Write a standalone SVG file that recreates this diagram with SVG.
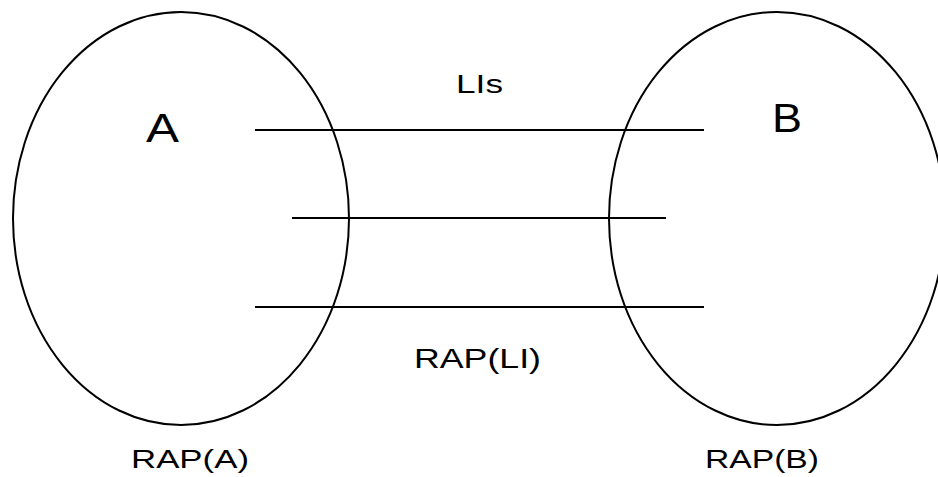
<svg xmlns="http://www.w3.org/2000/svg" width="938" height="477" viewBox="0 0 938 477">
<style>
.shape{fill:none;stroke:#000;stroke-width:2}
.ln{stroke:#000;stroke-width:2}
.t{font-family:"Liberation Sans",Arial,sans-serif;fill:#000}
</style>
<rect width="938" height="477" fill="#fff"/>
<g id="nodeA">
<ellipse class="shape" cx="181" cy="218.5" rx="168" ry="206.5"/>
<text class="t" x="146" y="142" font-size="40" textLength="33" lengthAdjust="spacingAndGlyphs">A</text>
<text class="t" x="131" y="468" font-size="26" textLength="118" lengthAdjust="spacingAndGlyphs">RAP(A)</text>
</g>
<g id="nodeB">
<ellipse class="shape" cx="777" cy="218.5" rx="168" ry="206.5"/>
<text class="t" x="772" y="132" font-size="40" textLength="30" lengthAdjust="spacingAndGlyphs">B</text>
<text class="t" x="705" y="468" font-size="26" textLength="114" lengthAdjust="spacingAndGlyphs">RAP(B)</text>
</g>
<g id="connectors">
<line class="ln" x1="255" y1="130" x2="704" y2="130"/>
<line class="ln" x1="292" y1="218" x2="666" y2="218" stroke-width="1.6"/>
<line class="ln" x1="255" y1="307" x2="704" y2="307"/>
<text class="t" x="456" y="93" font-size="25" textLength="47" lengthAdjust="spacingAndGlyphs">LIs</text>
<text class="t" x="414" y="368" font-size="28" textLength="127" lengthAdjust="spacingAndGlyphs">RAP(LI)</text>
</g>
</svg>
